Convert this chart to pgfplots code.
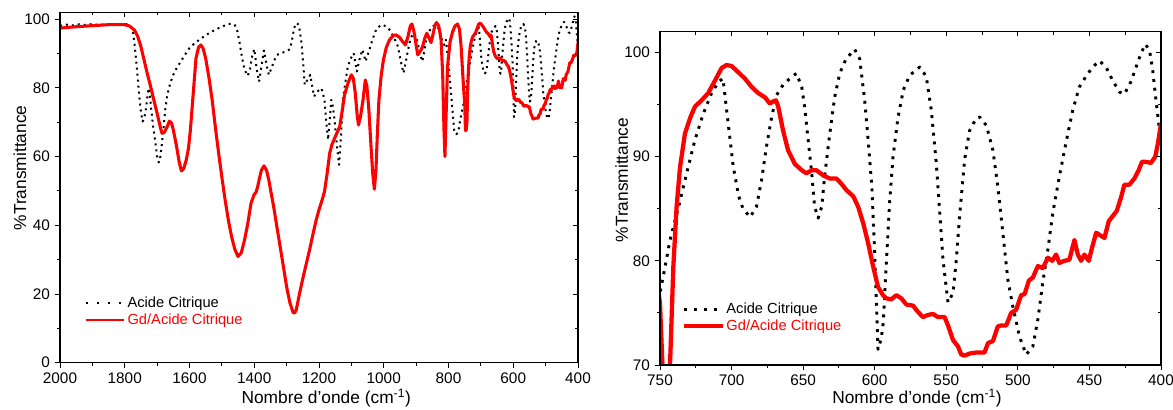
\documentclass[border=0pt]{standalone}
\usepackage{fontspec}
\setmainfont{Liberation Sans}
\usepackage{pgfplots}
\usepackage{pgfplotstable}
\pgfplotsset{compat=1.18}

\pgfplotstableread{
x y
2000 97.4
1950 97.8
1900 98.1
1850 98.4
1800 98.4
1785 98.0
1770 96.8
1760 95.0
1750 92.0
1740 88.0
1730 84.0
1720 80.4
1710 76.4
1700 72.6
1690 68.5
1685 66.8
1678 67.0
1670 68.5
1662 70.3
1656 69.8
1650 67.8
1640 63.0
1632 58.5
1625 55.8
1618 56.5
1610 59.0
1603 62.5
1597 68.0
1590 76.5
1580 88.6
1572 91.8
1565 92.5
1558 91.5
1550 88.6
1540 83.0
1530 76.5
1520 68.5
1510 61.0
1500 54.0
1490 47.4
1480 41.5
1470 36.7
1460 33.0
1450 30.9
1440 32.0
1430 35.7
1420 40.5
1410 46.4
1400 49.0
1395 49.5
1390 51.0
1385 53.2
1378 56.0
1370 57.3
1362 56.0
1355 53.2
1348 49.5
1340 45.4
1330 39.5
1320 33.8
1310 28.0
1300 22.1
1290 17.5
1280 14.6
1275 14.5
1270 15.5
1260 20.2
1250 24.5
1239 28.9
1228 33.3
1218 37.7
1208 41.8
1200 44.5
1190 47.5
1183 49.8
1175 55.0
1167 61.0
1160 63.5
1152 65.3
1145 66.8
1136 68.7
1128 73.5
1121 78.0
1110 81.5
1100 83.8
1094 82.8
1088 78.5
1082 72.0
1078 69.2
1072 71.5
1064 76.5
1057 82.3
1052 80.5
1046 73.6
1040 64.0
1034 55.0
1029 50.5
1024 56.0
1020 66.0
1015 76.5
1008 83.5
1001 88.2
992 91.8
982 94.0
970 95.3
962 95.4
952 94.8
942 93.5
933 92.5
925 95.0
918 98.0
913 98.6
907 96.5
900 92.5
895 89.6
888 90.5
880 92.0
873 94.5
867 95.9
860 94.5
854 93.2
848 95.5
842 98.2
837 99.0
830 98.0
823 94.0
818 84.0
814 68.0
811 60.0
808 70.0
803 86.2
795 93.5
787 96.4
780 98.0
772 98.6
766 97.0
761 92.0
756 84.0
752 78.0
750 75.9
748 69.0
747 67.5
745 68.0
743 70.0
740.7 79.4
738.4 85.2
736 89.0
732.6 92.2
729 93.7
725.6 94.8
721 95.4
716.3 96.1
711.6 97.3
707 98.5
703.5 98.8
700 98.7
695.3 98.1
690.7 97.5
686 96.7
681.4 96.1
676.7 95.7
673.3 95.1
671 95.3
669 95.4
667.4 94.8
664 92.5
660.5 90.6
655.8 89.3
651 88.7
647.7 88.4
644 88.7
640.7 88.7
636 88.2
631.4 87.9
626.7 87.9
623.3 87.4
619.8 86.8
615 86.2
611.6 85.2
608 83.6
604.6 81.7
601 79.4
597.7 77.5
594.2 76.7
591.9 76.4
588.4 76.3
584.9 76.7
581.4 76.4
577.9 75.8
573.3 75.7
569.8 75.1
566.3 74.6
562.8 74.8
559.3 74.9
555.8 74.6
551.2 74.6
548.8 73.8
545.3 72.4
541.9 71.8
539.5 71.0
537.2 70.9
533.7 71.1
529 71.2
525.6 71.2
523.3 71.2
520.9 72.1
517.4 72.3
514 73.7
511.6 73.8
508.1 73.8
504.7 75.0
501.2 75.3
497.7 76.7
495.3 76.8
492.3 78.1
489.5 78.4
486 79.5
482.6 79.3
479 80.3
476 80.0
473.3 80.6
471 79.8
467.5 80.0
464 80.1
460.5 82.0
458.1 80.6
455.8 80.0
453.5 80.6
450.5 80.0
448.1 81.3
445.3 82.7
441.9 82.4
439.5 82.2
436.5 83.8
433.7 84.3
430.9 84.8
427.9 86.1
425.6 87.3
422.1 87.3
418.6 87.9
415.6 88.7
413.3 89.5
410.5 89.5
407 89.4
404 90.0
402.1 91.3
400 93.2
}\redtab

\pgfplotstableread{
x y
2000 98.0
1980 98.4
1960 98.2
1940 98.5
1920 98.3
1900 98.6
1880 98.3
1860 98.5
1840 98.4
1820 98.6
1800 98.5
1790 98.6
1780 97.5
1775 96.4
1770 93.0
1765 88.2
1760 83.0
1755 77.5
1750 73.0
1745 70.2
1740 71.0
1735 73.6
1730 77.5
1727 79.9
1723 78.5
1718 73.6
1712 68.5
1705 63.9
1700 60.0
1695 58.3
1690 60.0
1685 63.9
1680 68.5
1675 73.6
1670 77.0
1665 79.4
1658 81.8
1650 83.8
1640 85.7
1630 87.2
1615 89.5
1600 91.6
1585 92.9
1570 94.0
1555 95.0
1540 95.9
1525 96.7
1510 97.4
1495 98.0
1480 98.6
1470 98.6
1460 98.3
1452 96.5
1445 93.0
1438 89.0
1430 85.2
1420 83.5
1413 85.5
1407 89.0
1400 91.3
1396 88.5
1393 85.7
1385 81.8
1378 86.2
1370 90.9
1362 86.7
1355 83.8
1345 86.2
1338 88.0
1330 89.6
1315 90.2
1300 90.6
1290 91.3
1283 94.0
1278 96.9
1272 98.8
1265 98.6
1260 97.0
1254 93.0
1248 86.0
1244 80.9
1238 82.0
1234 82.3
1227 83.8
1221 80.5
1215 77.5
1206 78.9
1198 79.4
1193 79.9
1188 78.5
1183 76.5
1178 70.5
1172 64.9
1167 70.5
1162 76.5
1157 74.5
1152 70.7
1145 63.5
1138 57.6
1132 66.0
1126 76.5
1118 82.0
1111 86.2
1102 88.5
1093 90.1
1088 87.5
1083 84.8
1078 87.0
1075 88.2
1066 91.1
1061 89.5
1056 87.7
1050 89.5
1044 91.1
1035 94.0
1023 97.1
1010 98.2
1002 98.3
992 97.8
982 96.9
970 95.0
956 92.0
948 88.0
939 84.3
932 87.5
925 91.1
918 94.0
910 95.9
905 95.6
900 95.0
895 93.0
888 90.0
881 87.7
875 90.5
869 94.0
862 96.0
854 97.4
847 98.0
839 98.3
832 97.5
825 95.9
818 93.0
813 92.5
808 94.0
801 88.0
795 81.4
788 74.0
782 67.3
776 66.5
770 67.0
765 70.0
758 73.5
750 76.9
746.5 79.4
743 82.0
737 85.2
731.4 88.4
725.6 91.6
719.8 94.1
714 96.1
709 97.2
706 97.5
703.5 94.5
701 91.6
698.8 89.0
695 86.2
692 85.0
687 84.2
682.6 85.2
679 87.8
675.6 91.0
672 93.8
668.6 95.9
664 96.9
659.3 97.5
654.7 98.0
651 96.7
649 94.8
646.5 91.6
644 88.4
642 85.2
639.5 84.1
637 85.2
635 88.1
631.4 92.2
628 95.7
624.4 98.0
620 99.4
614 100.3
610.5 99.4
607 95.4
604.6 91.6
602 87.1
600 80.7
597.7 71.5
595.5 72.5
594 74.1
591.9 79.8
589.5 85.8
587.2 90.0
583.7 93.8
580 96.4
575.6 97.8
568.6 98.6
564 97.7
560.5 94.5
557 89.4
554.7 84.9
552.3 80.1
548.8 76.0
545.3 76.9
543 80.1
540.7 84.3
537.2 89.7
533.7 92.5
529 93.7
526.7 93.8
522 93.0
517.4 90.6
514 87.1
510.5 82.7
507 78.2
503.5 75.6
498.8 72.7
494.2 71.0
489.5 71.8
486 74.4
482.6 77.9
479 81.1
475.6 84.6
471 88.1
466 91.6
461.6 94.5
457 96.7
452 97.8
447.7 98.6
443 99.2
438.4 98.6
433.7 97.3
429 96.2
425.6 96.0
421 97.2
417.4 98.6
414 99.9
411 100.8
408 100.2
405.8 98.3
403.5 95.4
401.6 93.2
400 91.0
}\blacktab

\pgfplotsset{
  common/.style={
    scale only axis, x dir=reverse,
    axis line style={line width=0.8pt},
    every tick/.style={black, line width=0.7pt},
    /pgf/number format/assume math mode=true,
    /pgf/number format/1000 sep={},
  },
  mainax/.style={
    common,
    tick align=outside, tick pos=left,
    major tick length=4pt, minor tick length=2.2pt,
    tick label style={font=\fontsize{11.5}{13}\selectfont},
    label style={font=\fontsize{13}{15}\selectfont},
    legend cell align=left,
    legend image code/.code={\draw[##1] (0pt,0pt) -- (29pt,0pt);},
  },
  overax/.style={
    common,
    tick align=inside, tick pos=right,
    major tick length=3.5pt, minor tick length=2.2pt,
    xticklabels={}, yticklabels={},
  },
}

\begin{document}
\begin{tikzpicture}
\useasboundingbox (0,0) rectangle (879.75pt,307.5pt);

% ---------- left panel ----------
\begin{axis}[mainax,
  at={(45pt,35.475pt)}, anchor=south west,
  width=388.5pt, height=262.8pt,
  xmin=400, xmax=2000, ymin=0, ymax=102,
  xtick={400,600,...,2000}, minor x tick num=1,
  ytick={0,20,...,100}, minor y tick num=1,
  xlabel={Nombre d'onde (cm\textsuperscript{-1})},
  ylabel={\%Transmittance},
  xlabel style={at={(0.514,-0.1007)}, anchor=center},
  ylabel style={at={(-0.0772,0.556)}, anchor=center},
  legend style={at={(0.0463,0.194)}, anchor=north west, draw=none, fill=none,
    font=\fontsize{11}{12}\selectfont, inner sep=0pt, nodes={inner sep=1.5pt}},
]
\addlegendimage{black, line width=1.6pt, line cap=butt, dash pattern=on 2pt off 6.3pt}
\addlegendentry{Acide Citrique}
\addlegendimage{red, line width=2pt}
\addlegendentry{\textcolor{red}{Gd/Acide Citrique}}
\addplot[forget plot, black, line width=1.5pt, line cap=butt, line join=round, dash pattern=on 1.5pt off 3pt] table[x=x,y=y] {\blacktab};
\addplot[forget plot, red, line width=2.3pt, line join=round] table[x=x,y=y] {\redtab};
\end{axis}
\begin{axis}[overax,
  at={(45pt,35.475pt)}, anchor=south west,
  width=388.5pt, height=262.8pt,
  xmin=400, xmax=2000, ymin=0, ymax=102,
  xtick={400,600,...,2000}, minor x tick num=1,
  ytick={0,20,...,100}, minor y tick num=1,
]
\end{axis}

% ---------- right panel ----------
\begin{axis}[mainax,
  at={(495pt,33.75pt)}, anchor=south west,
  width=375.75pt, height=250pt,
  xmin=400, xmax=750, ymin=70, ymax=102,
  xtick={400,450,...,750}, minor x tick num=1,
  ytick={70,80,90,100}, minor y tick num=1,
  xlabel={Nombre d'onde (cm\textsuperscript{-1})},
  ylabel={\%Transmittance},
  xlabel style={at={(0.513,-0.099)}, anchor=center},
  ylabel style={at={(-0.0765,0.555)}, anchor=center},
  legend style={at={(0.044,0.193)}, anchor=north west, draw=none, fill=none,
    font=\fontsize{11}{12}\selectfont, inner sep=0pt, nodes={inner sep=1.5pt}},
]
\addlegendimage{black, line width=2pt, line cap=butt, dash pattern=on 2.2pt off 5.3pt}
\addlegendentry{Acide Citrique}
\addlegendimage{red, line width=2.6pt}
\addlegendentry{\textcolor{red}{Gd/Acide Citrique}}
\addplot[forget plot, black, line width=2.2pt, line cap=butt, line join=round, dash pattern=on 2.2pt off 4.4pt] table[x=x,y=y] {\blacktab};
\addplot[forget plot, red, line width=3.2pt, line join=round] table[x=x,y=y] {\redtab};
\end{axis}
\begin{axis}[overax,
  at={(495pt,33.75pt)}, anchor=south west,
  width=375.75pt, height=250pt,
  xmin=400, xmax=750, ymin=70, ymax=102,
  xtick={400,450,...,750}, minor x tick num=1,
  ytick={70,80,90,100}, minor y tick num=1,
]
\end{axis}
\end{tikzpicture}
\end{document}
